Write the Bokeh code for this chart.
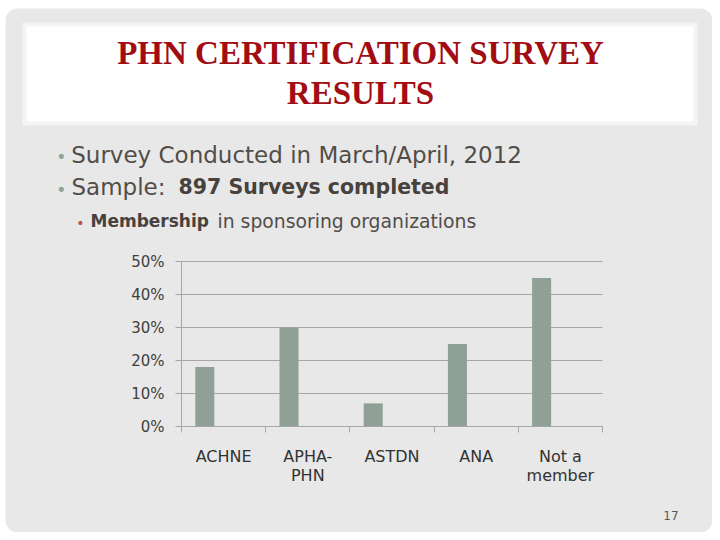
from bokeh.plotting import figure
from bokeh.models import (ColumnDataSource, Range1d, LinearAxis, FixedTicker, NumeralTickFormatter,
                          Label, BoxAnnotation)
from bokeh.transform import dodge
from bokeh.embed import file_html
from bokeh.resources import INLINE

categories = ["ACHNE", "APHA-\nPHN", "ASTDN", "ANA", "Not a\nmember"]
membership_share = [0.18, 0.30, 0.07, 0.25, 0.45]
y_ticks = [0.0, 0.1, 0.2, 0.3, 0.4, 0.5]

title_lines = ["PHN CERTIFICATION SURVEY", "RESULTS"]
bullet_1 = "Survey Conducted in March/April, 2012"
bullet_2_plain = "Sample:"
bullet_2_bold = "897 Surveys completed"
bullet_3_bold = "Membership"
bullet_3_plain = "in sponsoring organizations"
page_number = "17"

# slide geometry (pixels)
W, H = 712, 532
PLOT_L, PLOT_R, PLOT_T, PLOT_B = 181, 602, 261, 426
YMAX = 0.5
BG = "#e8e8e8"
GRID = "#a6a6a6"
TXT = "#524d48"
TXT_B = "#47423d"
FONT = "DejaVu Sans"

n = len(categories)
centers = [i + 0.5 for i in range(n)]
bounds = [float(i) for i in range(n + 1)]
src = ColumnDataSource(dict(pos=centers, val=membership_share))

# the frame covers the whole slide; default ranges are slide pixels (y from top)
p = figure(width=W, height=H, output_backend="svg", toolbar_location=None, title_location=None,
           x_range=Range1d(0, W), y_range=Range1d(H, 0),
           x_axis_location=None, y_axis_location=None,
           min_border_left=0, min_border_right=0, min_border_top=0, min_border_bottom=0)
p.border_fill_color = "white"
p.background_fill_color = "white"
p.outline_line_color = None
p.xgrid.grid_line_color = None
p.ygrid.grid_line_color = None

# chart data ranges, mapped onto the chart area of the slide
ppx = (PLOT_R - PLOT_L) / n
ppy = (PLOT_B - PLOT_T) / YMAX
p.extra_x_ranges = {"chart": Range1d((0 - PLOT_L) / ppx, (W - PLOT_L) / ppx)}
p.extra_y_ranges = {"chart": Range1d((PLOT_B - H) / ppy, PLOT_B / ppy)}

# slide background with rounded corners
p.add_layout(BoxAnnotation(left=5, right=712, top=8, bottom=532, border_radius=12,
                           fill_color=BG, fill_alpha=1, line_color=None, level="underlay"))
# title box
p.add_layout(BoxAnnotation(left=22, right=697, top=22, bottom=125,
                           fill_color="#f4f4f4", fill_alpha=1, line_color=None, level="underlay"))
p.add_layout(BoxAnnotation(left=26, right=693, top=26, bottom=121,
                           fill_color="#ffffff", fill_alpha=1, line_color=None, level="underlay"))

def lab(x, y, text, size, color, style="normal", font=FONT, align="left", baseline="alphabetic"):
    p.add_layout(Label(x=x, y=y, text=text,
                       text_font=font, text_font_size=size, text_color=color,
                       text_font_style=style, text_align=align, text_baseline=baseline))

lab(360, 52.5, title_lines[0], "33px", "#a10d12", "bold", "Liberation Serif", "center")
lab(360, 92, title_lines[1], "33px", "#a10d12", "bold", "Liberation Serif", "center")

lab(60.7, 156, "\u2022", "18px", "#93a59b", align="center", baseline="middle")
lab(70.7, 154.5, bullet_1, "23px", TXT)
lab(60.7, 189, "\u2022", "18px", "#93a59b", align="center", baseline="middle")
lab(71, 186, bullet_2_plain, "23px", TXT)
lab(178, 186, bullet_2_bold, "20.5px", TXT_B, "bold")
lab(80, 222, "\u2022", "14px", "#c0504d", align="center", baseline="middle")
lab(90, 220.5, bullet_3_bold, "17px", TXT_B, "bold")
lab(217, 220.5, bullet_3_plain, "18.8px", TXT)
lab(670.5, 514.5, page_number, "12px", "#595959", align="center")

# gridlines from the tick values
p.segment(x0=0, x1=n, y0=y_ticks, y1=y_ticks, x_range_name="chart", y_range_name="chart",
          line_color=GRID, line_width=1)

# bars
p.vbar(x=dodge("pos", -0.223), top="val", width=0.226, source=src,
       x_range_name="chart", y_range_name="chart", fill_color="#8fa197", line_color=None)

# axes, pinned to the chart area
yax = LinearAxis(y_range_name="chart", fixed_location=PLOT_L, bounds=(0, YMAX),
                 ticker=FixedTicker(ticks=y_ticks), formatter=NumeralTickFormatter(format="0%"),
                 axis_line_color=GRID, major_tick_line_color=GRID, major_tick_out=6, major_tick_in=0,
                 minor_tick_line_color=None, major_label_standoff=11,
                 major_label_text_font=FONT, major_label_text_font_size="15px",
                 major_label_text_color="#404040")
p.add_layout(yax, "left")

tick_ax = LinearAxis(x_range_name="chart", fixed_location=PLOT_B, bounds=(0, n),
                     ticker=FixedTicker(ticks=bounds),
                     axis_line_color=GRID, major_tick_line_color=GRID, major_tick_out=6, major_tick_in=0,
                     minor_tick_line_color=None, major_label_text_font_size="0px",
                     major_label_standoff=0)
p.add_layout(tick_ax, "below")

cat_ax = LinearAxis(x_range_name="chart", fixed_location=PLOT_B, bounds=(0, n),
                    ticker=FixedTicker(ticks=centers),
                    major_label_overrides={c: lbl for c, lbl in zip(centers, categories)},
                    axis_line_color=None, major_tick_line_color=None, minor_tick_line_color=None,
                    major_tick_out=0, major_tick_in=0,
                    major_label_standoff=20, major_label_text_font=FONT,
                    major_label_text_font_size="16px", major_label_text_color="#333333",
                    major_label_text_line_height=1.0)
p.add_layout(cat_ax, "below")

open("out.html", "w").write(file_html(p, INLINE))
